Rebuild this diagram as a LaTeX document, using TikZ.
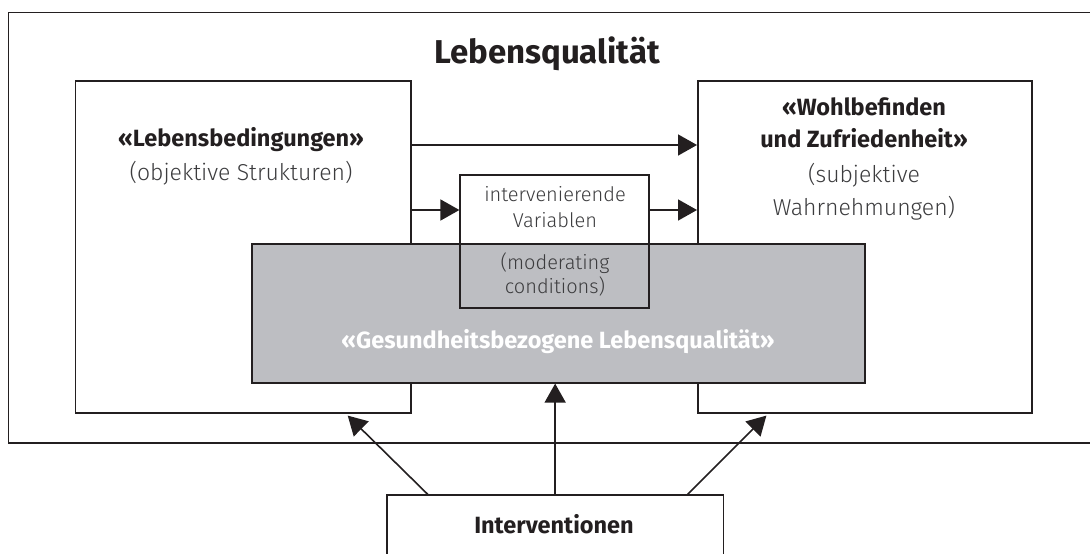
\documentclass[tikz,border=0pt]{standalone}
\usepackage{fontspec}
\setmainfont{Fira Sans}
\newfontfamily\lightfont{Fira Sans}[UprightFont=* Light]
\usetikzlibrary{arrows.meta}
\definecolor{ink}{RGB}{35,31,32}
\definecolor{greybox}{RGB}{189,190,194}
\definecolor{softink}{RGB}{60,60,62}
\tikzset{
  box/.style={draw=ink, line width=1.6pt, rectangle, inner sep=0pt, anchor=north west},
  boldtxt/.style={anchor=base, text=ink, font=\fontsize{23.5}{28}\selectfont\bfseries},
  lighttxt/.style={anchor=base, text=softink, font=\fontsize{23}{28}\selectfont\lightfont},
  smalltxt/.style={anchor=base, text=softink, font=\fontsize{20}{24}\selectfont\lightfont},
  arr/.style={draw=ink, line width=1.6pt, -{Triangle[length=19pt,width=21pt]}}
}
\begin{document}
\begin{tikzpicture}[x=1pt,y=-1pt]
	  \clip (0,0) rectangle (1090,554);
	  \fill [white] (0,0) rectangle (1090,554);

	  \node [box, minimum width=1100pt, minimum height=430.5pt] (frame) at (7.6,11.5) {};
	  \node [box, minimum width=335.3pt, minimum height=332pt] (bedingungen) at (74.7,80) {};
	  \node [box, minimum width=334pt, minimum height=332pt] (wohlbefinden) at (697,80) {};
	  \node [box, fill=greybox, minimum width=612.7pt, minimum height=139pt] (gesundheit) at (251.3,243) {};
	  \node [box, minimum width=189pt, minimum height=133pt] (variablen) at (459.4,174) {};
	  \node [box, minimum width=336.7pt, minimum height=100pt] (interventionen) at (386,494.3) {};

	  \node [boldtxt, font=\fontsize{33}{38}\selectfont\bfseries] (titel) at (547,63) {Lebensqualität};

	  \node [boldtxt] (bed1) at (241,146) {«Lebensbedingungen»};
	  \node [lighttxt] (bed2) at (241,180) {(objektive Strukturen)};

	  \node [boldtxt] (wohl1) at (864,115) {«Wohlbefinden};
	  \node [boldtxt] (wohl2) at (864,147) {und Zufriedenheit»};
	  \node [lighttxt] (wohl3) at (864,182) {(subjektive};
	  \node [lighttxt] (wohl4) at (864,215) {Wahrnehmungen)};

	  \node [smalltxt] (var1) at (555,201) {intervenierende};
	  \node [smalltxt] (var2) at (555,227) {Variablen};
	  \node [smalltxt] (var3) at (555,269) {(moderating};
	  \node [smalltxt] (var4) at (555,293) {conditions)};

	  \node [boldtxt, text=white] (ges1) at (558,348) {«Gesundheitsbezogene Lebensqualität»};
	  \node [boldtxt] (int1) at (554,533) {Interventionen};

	  \coordinate (row1) at (0,145);
	  \coordinate (row2) at (0,210);
	  \draw [arr] (bedingungen.east |- row1) -- (wohlbefinden.west |- row1);
	  \draw [arr] (bedingungen.east |- row2) -- (variablen.west |- row2);
	  \draw [arr] (variablen.east |- row2) -- (wohlbefinden.west |- row2);

	  \draw [arr] ([xshift=41.7pt]interventionen.north west) -- ([xshift=273pt,yshift=-2pt]bedingungen.south west);
	  \draw [arr] (interventionen.north) -- (interventionen.north |- gesundheit.south);
	  \draw [arr] ([xshift=-36.7pt]interventionen.north east) -- ([xshift=69.4pt,yshift=-2pt]wohlbefinden.south west);
	\end{tikzpicture}
\end{document}
